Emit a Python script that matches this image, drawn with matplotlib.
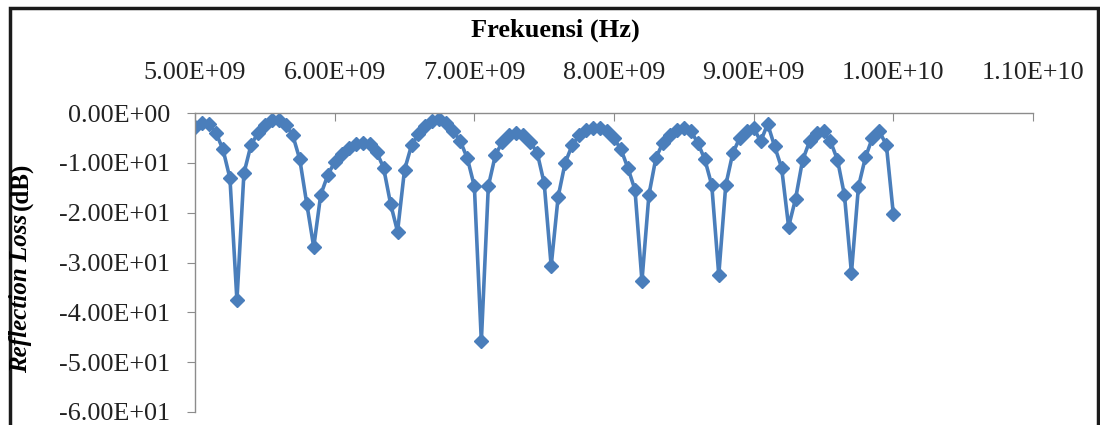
import numpy as np
import matplotlib
matplotlib.use("Agg")
import matplotlib.pyplot as plt
from matplotlib.ticker import FuncFormatter, MultipleLocator
from matplotlib.patches import Rectangle

plt.rcParams["font.family"] = ["Liberation Serif", "DejaVu Serif"]

# sweep 5 - 10 GHz, 0.05 GHz step
freq_ghz = np.round(np.arange(5.0, 10.0001, 0.05), 2)

reflection_loss = [
    -2.8, -2.1, -2.3, -4.0, -7.3, -13.1, -37.6,
    -12.1, -6.5, -4.0, -2.4, -1.5, -1.5, -2.4, -4.5, -9.3, -18.2, -26.9,
    -16.4, -12.5, -9.8, -8.2, -7.0, -6.3, -6.0, -6.3, -7.8, -11.0, -18.2, -23.8,
    -11.4, -6.5, -4.2, -2.6, -1.6, -1.3, -2.0, -3.6, -5.7, -9.1, -14.7, -45.8,
    -14.7, -8.5, -5.8, -4.4, -4.0, -4.5, -5.8, -8.0, -14.1, -30.7,
    -16.8, -10.0, -6.5, -4.5, -3.4, -3.0, -3.0, -3.6, -5.1, -7.3, -11.1, -15.4, -33.7,
    -16.4, -9.0, -6.0, -4.5, -3.4, -3.0, -3.6, -6.0, -9.3, -14.5, -32.5,
    -14.5, -8.1, -5.0, -3.6, -3.0, -5.7, -2.2, -6.7, -11.0, -22.8,
    -17.2, -9.5, -5.7, -4.0, -3.7, -5.7, -9.4, -16.5, -32.1,
    -14.8, -8.9, -5.0, -3.7, -6.4, -20.3,
]

freq_hz = freq_ghz * 1e9

fig = plt.figure(figsize=(11, 4.25), dpi=100)
ax = fig.add_axes([0.1773, 0.0306, 0.7618, 0.7035])

ax.plot(freq_hz, reflection_loss, color="#4A7EBB", lw=2.6,
        marker="D", markersize=7, markeredgecolor="#4A7EBB")

ax.set_xlim(5e9, 1.1e10)
ax.set_ylim(-60, 0)
ax.xaxis.set_major_locator(MultipleLocator(1e9))
ax.yaxis.set_major_locator(MultipleLocator(10))
ax.xaxis.set_major_formatter(FuncFormatter(lambda v, p: f"{v:.2E}"))
ax.yaxis.set_major_formatter(FuncFormatter(lambda v, p: f"{v:.2E}"))

ax.xaxis.tick_top()
for s in ["right", "bottom"]:
    ax.spines[s].set_visible(False)
for s in ["top", "left"]:
    ax.spines[s].set_color("#8C8C8C")
    ax.spines[s].set_linewidth(1.0)
ax.tick_params(axis="x", direction="in", length=6, color="#8C8C8C",
               labelsize=18.8, pad=21, labelcolor="#222222")
ax.tick_params(axis="y", direction="out", length=6, color="#8C8C8C",
               labelsize=18.8, pad=12, labelcolor="#222222")

fig.text(0.505, 0.928, "Frekuensi (Hz)", ha="center", va="center",
         fontsize=19, fontweight="bold")

# y label: italic part + plain part
y0 = 1 - 373 / 425
lab1 = fig.text(0.019, y0, "Reflection Loss", rotation=90, ha="center",
                va="bottom", fontsize=18, fontweight="bold", style="italic")
fig.canvas.draw()
bb = lab1.get_window_extent()
y1 = bb.y1 / fig.bbox.height
fig.text(0.019, y1 + 0.01, "(dB)", rotation=90, ha="center", va="bottom",
         fontsize=18, fontweight="bold")

# chart border
fig.patches.append(Rectangle((0.009, -0.2), 0.989, 1.181, transform=fig.transFigure,
                             fill=False, edgecolor="#1a1a1a", linewidth=2.5))

fig.savefig("out.png", dpi=100)
